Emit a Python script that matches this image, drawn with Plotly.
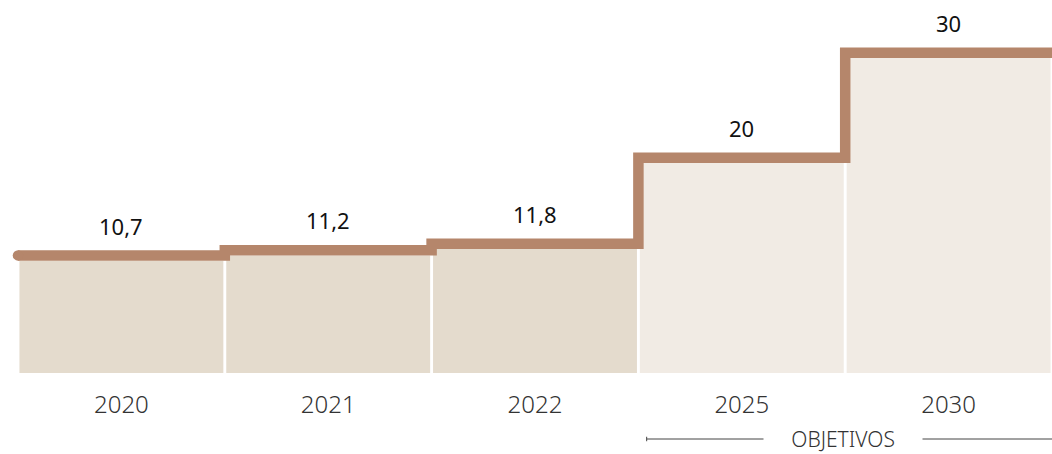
import numpy as np
import plotly.graph_objects as go

# Data: share (%) per year, last two are targets
years = ["2020", "2021", "2022", "2025", "2030"]
values = [10.7, 11.2, 11.8, 20, 30]
labels = ["10,7", "11,2", "11,8", "20", "30"]
is_target = [False, False, False, True, True]

LINE_COLOR = "#b5866b"
HIST_COLOR = "#e4dbcd"
TARGET_COLOR = "#f1ebe4"
FONT = "Noto Sans"

x = np.arange(len(years))
bar_colors = [TARGET_COLOR if t else HIST_COLOR for t in is_target]

fig = go.Figure()

# bars
fig.add_trace(go.Bar(
    x=x, y=values, marker=dict(color=bar_colors, line=dict(width=0)),
    hoverinfo="skip", showlegend=False,
))

# step line sitting on top of the bars (half line width above bar tops)
y_px = 10.5  # pixels per unit on the y axis
lw = 10.5
offset = lw / 2 / y_px
step_x = np.append(x - 0.5, x[-1] + 0.5)
step_y = np.append(values, values[-1]) + offset
fig.add_trace(go.Scatter(
    x=step_x, y=step_y, mode="lines+markers",
    line=dict(color=LINE_COLOR, width=lw, shape="hv"),
    marker=dict(color=LINE_COLOR, size=[lw] + [0] * (len(step_x) - 1),
                line=dict(width=0), opacity=1),
    cliponaxis=False, hoverinfo="skip", showlegend=False,
))

# value labels
for xi, v, lab in zip(x, values, labels):
    fig.add_annotation(
        x=xi, y=v, text=lab, showarrow=False, yanchor="middle", yshift=35,
        font=dict(family=FONT, size=22, color="#111111"),
    )

W, H = 1052, 454
plot_h = 373

# "OBJETIVOS" bracket under the target years
tgt = [i for i, t in enumerate(is_target) if t]
x0, x1 = tgt[0] - 0.5 + 0.04, tgt[-1] + 0.5
y_br = -(439 - plot_h) / plot_h
fig.add_shape(type="line", xref="x", yref="paper", x0=x0, x1=x1, y0=y_br, y1=y_br,
              line=dict(color="#444444", width=1))
fig.add_shape(type="line", xref="x", yref="paper", x0=x0, x1=x0, y0=y_br - 0.006, y1=y_br + 0.006,
              line=dict(color="#444444", width=1))
pad = "&nbsp;" * 5
fig.add_annotation(
    x=(x0 + x1) / 2 - 0.03, y=y_br, xref="x", yref="paper", text=pad + "OBJETIVOS" + pad,
    showarrow=False, bgcolor="white", borderpad=0, yanchor="middle",
    font=dict(family=FONT, size=21, color="#333333", weight=300),
)

fig.update_layout(
    width=W, height=H,
    margin=dict(l=18, r=0, t=0, b=H - plot_h),
    plot_bgcolor="white", paper_bgcolor="white",
    bargap=0.014,
    xaxis=dict(range=[-0.5, len(years) - 0.5], tickvals=x, ticktext=years,
               showgrid=False, zeroline=False, showline=False, ticks="",
               ticklabelstandoff=15,
               tickfont=dict(family=FONT, size=24, color="#333333", weight=300)),
    yaxis=dict(range=[0, plot_h / y_px], visible=False, fixedrange=True),
)

# drop the default page margin so the figure fills the window exactly
fig.write_html("out.html", config={"displayModeBar": False},
               post_script="document.body.style.margin='0';document.body.style.overflow='hidden';")
